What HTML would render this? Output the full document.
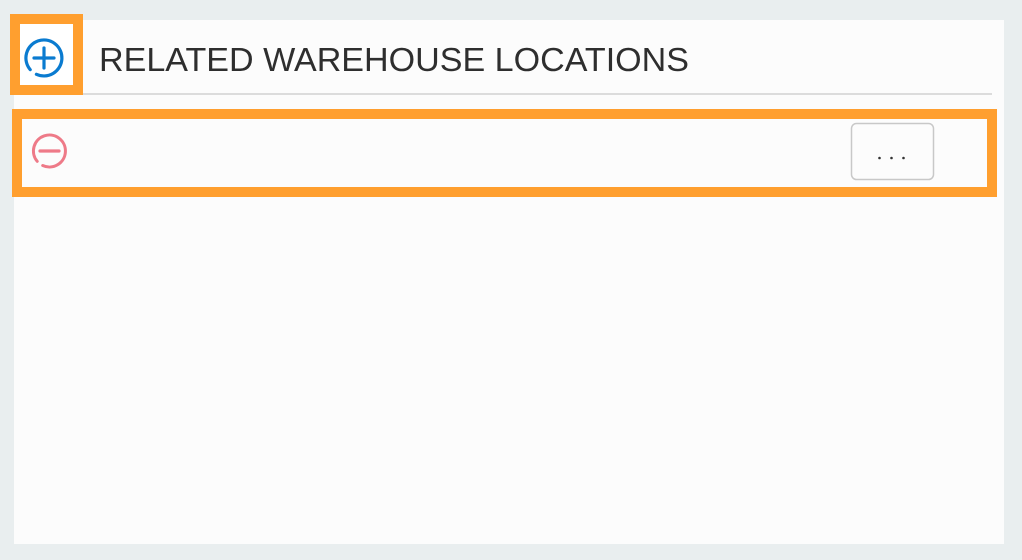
<!DOCTYPE html>
<html><head><style>
html,body{margin:0;padding:0;width:1022px;height:560px;overflow:hidden;background:#e9eeef;}
</style></head><body>
<svg width="1022" height="560" xmlns="http://www.w3.org/2000/svg">
<rect x="0" y="0" width="1022" height="560" fill="#e9eeef"/>
<rect x="14" y="20" width="990" height="524" fill="#fcfcfc"/>
<rect x="24" y="93" width="968" height="2" fill="#dcdcdc"/>
<rect x="15" y="19" width="63" height="71" fill="#ffffff" stroke="#ff9f2f" stroke-width="10"/>
<path d="M 30.2 69.6 A 18 18 0 1 1 36.4 74.3" fill="none" stroke="#0a7bd0" stroke-width="3.2" stroke-linecap="round"/>
<line x1="34" y1="58" x2="54" y2="58" stroke="#0a7bd0" stroke-width="3.2" stroke-linecap="round"/>
<line x1="44" y1="48" x2="44" y2="68" stroke="#0a7bd0" stroke-width="3.2" stroke-linecap="round"/>
<text x="99" y="71" font-family="Liberation Sans, sans-serif" font-size="33" fill="#2e2e2e" textLength="590" lengthAdjust="spacingAndGlyphs">RELATED WAREHOUSE LOCATIONS</text>
<rect x="17" y="114" width="975" height="78" fill="#fcfcfc" stroke="#ff9f2f" stroke-width="10"/>
<path d="M 37.2 161.3 A 16 16 0 1 1 42.7 165.5" fill="none" stroke="#ee7a88" stroke-width="3" stroke-linecap="round"/>
<line x1="40" y1="151" x2="59" y2="151" stroke="#ee7a88" stroke-width="3.2" stroke-linecap="round"/>
<rect x="851.5" y="123.5" width="82" height="56" rx="5" fill="#fcfcfc" stroke="#c8c8c8" stroke-width="1.5"/>
<circle cx="879.5" cy="158" r="1.3" fill="#333"/>
<circle cx="891.5" cy="158" r="1.3" fill="#333"/>
<circle cx="903.5" cy="158" r="1.3" fill="#333"/>
</svg>
</body></html>
